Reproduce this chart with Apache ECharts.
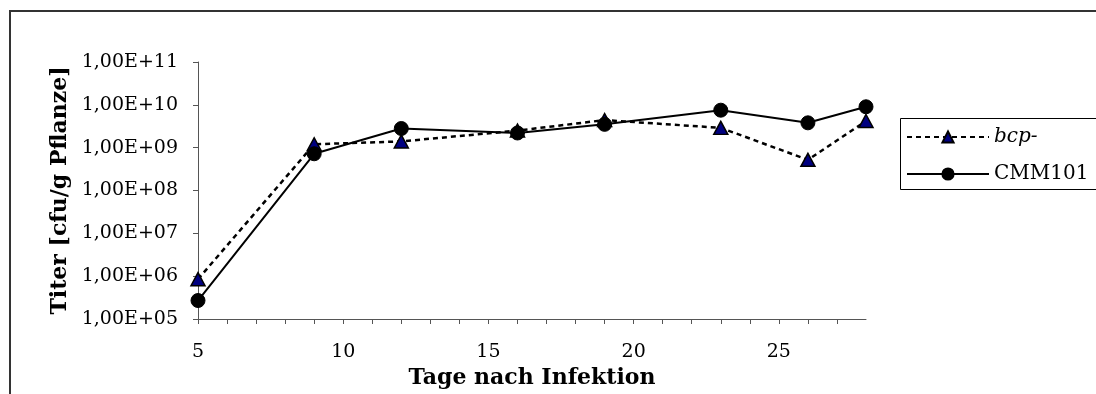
<!DOCTYPE html>
<html>
<head>
<meta charset="utf-8">
<script src="https://cdn.jsdelivr.net/npm/echarts@6/dist/echarts.min.js"></script>
<style>html,body{margin:0;padding:0;background:#fff}#c{width:1096px;height:394px}</style>
</head>
<body>
<div id="c"></div>
<script>
var days = [5, 9, 12, 16, 19, 23, 26, 28];
var bcp = [8.5e5, 1.2e9, 1.4e9, 2.5e9, 4.4e9, 2.9e9, 5.2e8, 4.2e9];
var cmm101 = [2.7e5, 7.2e8, 2.8e9, 2.2e9, 3.5e9, 7.5e9, 3.8e9, 9.0e9];
var seriesNames = ['bcp-', 'CMM101'];
var xTitle = 'Tage nach Infektion';
var yTitle = 'Titer [cfu/g Pflanze]';

var FONT = '"DejaVu Serif", "Liberation Serif", serif';
function pairs(ys) { return days.map(function (d, i) { return [d, ys[i]]; }); }

var chart = echarts.init(document.getElementById('c'), null, { renderer: 'canvas' });
chart.setOption({
  animation: false,
  backgroundColor: '#fff',
  graphic: [{
    type: 'rect', z: -1,
    shape: { x: 10, y: 11, width: 1300, height: 600 },
    style: { fill: 'none', stroke: '#333', lineWidth: 2 }
  }, {
    type: 'rect', z: -1,
    shape: { x: 900.5, y: 118.5, width: 400, height: 71 },
    style: { fill: '#fff', stroke: '#000', lineWidth: 1 }
  }],
  grid: { left: 198, right: 230, top: 62, bottom: 74 },
  legend: {
    orient: 'vertical',
    left: 900, top: 118,
    padding: [9, 6, 6, 6],
    itemWidth: 82, itemHeight: 14, itemGap: 17,
    textStyle: {
      fontFamily: FONT, fontSize: 20, color: '#000', lineHeight: 20,
      rich: { it: { fontFamily: FONT, fontSize: 20, fontStyle: 'italic', color: '#000', lineHeight: 20 } }
    },
    formatter: function (n) { return n === 'bcp-' ? '{it|bcp-}' : n; },
    data: seriesNames
  },
  xAxis: {
    type: 'value', min: 5, max: 28, interval: 1,
    name: xTitle, nameLocation: 'middle', nameGap: 48,
    nameTextStyle: { fontFamily: FONT, fontSize: 22, fontWeight: 'bold', color: '#000' },
    axisLine: { lineStyle: { color: '#555', width: 1 } },
    axisTick: { show: true, length: 5, lineStyle: { color: '#555' } },
    axisLabel: {
      fontFamily: FONT, fontSize: 19, color: '#000', margin: 24,
      showMaxLabel: false,
      formatter: function (v) { return v % 5 === 0 ? String(v) : ''; }
    },
    splitLine: { show: false }
  },
  yAxis: {
    type: 'log', logBase: 10, min: 1e5, max: 1e11,
    name: yTitle, nameLocation: 'middle', nameGap: 126, nameRotate: 90,
    nameTextStyle: { fontFamily: FONT, fontSize: 22, fontWeight: 'bold', color: '#000' },
    axisLine: { show: true, lineStyle: { color: '#555', width: 1 } },
    axisTick: { show: true, length: 5, lineStyle: { color: '#555' } },
    axisLabel: {
      fontFamily: FONT, fontSize: 19, color: '#000', margin: 20,
      formatter: function (v) {
        var e = Math.round(Math.log10(v));
        return '1,00E+' + (e < 10 ? '0' + e : e);
      }
    },
    splitLine: { show: false }
  },
  series: [
    {
      name: seriesNames[0], type: 'line', data: pairs(bcp),
      symbol: 'triangle', symbolSize: [14, 13],
      lineStyle: { color: '#000', width: 2.5, type: [5, 4] },
      itemStyle: { color: '#000080', borderColor: '#000', borderWidth: 1.5 },
      z: 2
    },
    {
      name: seriesNames[1], type: 'line', data: pairs(cmm101),
      symbol: 'circle', symbolSize: 14,
      lineStyle: { color: '#000', width: 2, type: 'solid' },
      itemStyle: { color: '#000', borderColor: '#000', borderWidth: 1 },
      z: 3
    }
  ]
});
</script>
</body>
</html>
